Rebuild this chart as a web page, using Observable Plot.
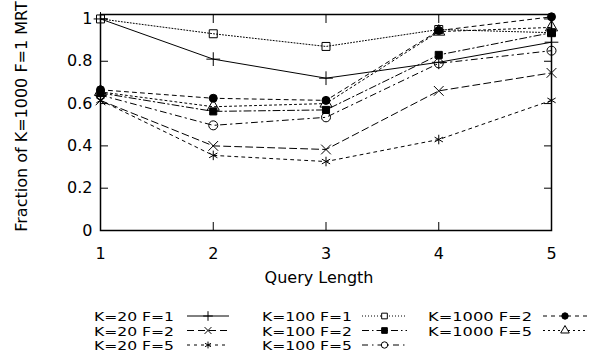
<!DOCTYPE html>
<html>
<head>
<meta charset="utf-8">
<script src="https://cdn.jsdelivr.net/npm/d3@7"></script>
<script src="https://cdn.jsdelivr.net/npm/@observablehq/plot@0.6"></script>
<style>
  html, body { margin: 0; padding: 0; background: #fff; }
  svg { display: block; }
</style>
</head>
<body>
<div id="chart"></div>
<script>
// ---- data ----
const queryLength = [1, 2, 3, 4, 5];
const k20f1   = [1.00, 0.81, 0.72, 0.795, 0.89];
const k20f2   = [0.615, 0.40, 0.383, 0.66, 0.745];
const k20f5   = [0.615, 0.355, 0.326, 0.43, 0.615];
const k100f1  = [1.00, 0.93, 0.87, 0.95, 0.935];
const k100f2  = [0.65, 0.563, 0.57, 0.83, 0.935];
const k100f5  = [0.64, 0.497, 0.535, 0.79, 0.85];
const k1000f2 = [0.665, 0.625, 0.615, 0.945, 1.01];
const k1000f5 = [0.655, 0.585, 0.60, 0.94, 0.96];
const yTicks = [0, 0.2, 0.4, 0.6, 0.8, 1];
const xTicks = [1, 2, 3, 4, 5];
const xLabel = "Query Length";
const yLabel = "Fraction of K=1000 F=1 MRT";

const series = [
  {name: "K=20 F=1",   values: k20f1,   symbol: "plus",     fill: "none",  dash: null},
  {name: "K=20 F=2",   values: k20f2,   symbol: "times",    fill: "none",  dash: "7,4"},
  {name: "K=20 F=5",   values: k20f5,   symbol: "asterisk", fill: "none",  dash: "3,4"},
  {name: "K=100 F=1",  values: k100f1,  symbol: "square",   fill: "none",  dash: "1,2"},
  {name: "K=100 F=2",  values: k100f2,  symbol: "square",   fill: "black", dash: "7,3,1.5,3"},
  {name: "K=100 F=5",  values: k100f5,  symbol: "circle",   fill: "none",  dash: "6,4,1.5,4"},
  {name: "K=1000 F=2", values: k1000f2, symbol: "circle",   fill: "black", dash: "4,4"},
  {name: "K=1000 F=5", values: k1000f5, symbol: "triangle", fill: "none",  dash: "2,3"}
];
const legendCols = [
  ["K=20 F=1", "K=20 F=2", "K=20 F=5"],
  ["K=100 F=1", "K=100 F=2", "K=100 F=5"],
  ["K=1000 F=2", "K=1000 F=5"]
];

const rows = s => queryLength.map((q, i) => ({q, v: s.values[i]}));
const font = "DejaVu Sans";

const marks = [];
for (const s of series) {
  marks.push(Plot.line(rows(s), {x: "q", y: "v", stroke: "black", strokeWidth: 1, strokeDasharray: s.dash ?? undefined}));
}
for (const s of series) {
  marks.push(Plot.dot(rows(s), {
    x: "q", y: "v", symbol: s.symbol, r: s.fill === "black" ? 4 : 4.5,
    fill: s.fill, stroke: "black", strokeWidth: 1
  }));
}

const chart = Plot.plot({
  width: 595,
  height: 295,
  marginTop: 14,
  marginBottom: 65,
  marginLeft: 100,
  marginRight: 44,
  style: {fontFamily: font, fontSize: "16px", color: "black", background: "white"},
  x: {domain: [1, 5]},
  y: {domain: [0, 1.021]},
  marks: [
    ...marks,
    Plot.axisX(xTicks, {anchor: "bottom", tickSize: -8, tickPadding: 25, tickFormat: d => String(d), label: null, fontSize: 16}),
    Plot.axisX(xTicks, {anchor: "top", tickSize: -8, tickFormat: () => "", label: null}),
    Plot.axisY(yTicks, {anchor: "left", tickSize: -8, tickPadding: 16, tickFormat: d => String(d), label: null, fontSize: 16}),
    Plot.axisY(yTicks, {anchor: "right", tickSize: -8, tickFormat: () => "", label: null}),
    Plot.frame({stroke: "black", strokeWidth: 1.5}),
    Plot.text([xLabel], {text: d => d, frameAnchor: "bottom", textAnchor: "middle", lineAnchor: "middle", dy: 47.5, dx: -7, fontSize: 16}),
    Plot.text([yLabel], {text: d => d, frameAnchor: "left", textAnchor: "middle", lineAnchor: "middle", rotate: -90, dx: -79, dy: -6, fontSize: 16})
  ]
});
document.getElementById("chart").appendChild(chart);

// ---- legend ----
const symbolMap = {
  plus: d3.symbolPlus, times: d3.symbolTimes, asterisk: d3.symbolAsterisk,
  square: d3.symbolSquare, circle: d3.symbolCircle, triangle: d3.symbolTriangle
};
const colText = [[94, 174], [262, 352], [428, 532]];
const colSample = [[187, 229], [362, 407], [543, 587]];
const rowBase = [26, 40.5, 55];
const leg = d3.select("#chart").append("svg")
  .attr("width", 595).attr("height", 69)
  .style("font-family", font).style("font-size", "12.5px");
legendCols.forEach((col, ci) => {
  col.forEach((name, ri) => {
    const s = series.find(d => d.name === name);
    const y = rowBase[ri];
    const [tx0, tx1] = colText[ci];
    leg.append("text").attr("x", tx0).attr("y", y)
      .attr("text-anchor", "start").attr("fill", "black")
      .attr("textLength", tx1 - tx0).attr("lengthAdjust", "spacingAndGlyphs")
      .text(name);
    const [x1, x2] = colSample[ci];
    const ym = y - 5;
    leg.append("line").attr("x1", x1).attr("x2", x2).attr("y1", ym).attr("y2", ym)
      .attr("stroke", "black").attr("stroke-width", 1)
      .attr("stroke-dasharray", s.dash);
    const r = 3.2;
    leg.append("path")
      .attr("transform", `translate(${(x1 + x2) / 2},${ym})`)
      .attr("d", d3.symbol(symbolMap[s.symbol], Math.PI * r * r)())
      .attr("fill", s.fill === "black" ? "black" : "white")
      .attr("stroke", "black").attr("stroke-width", 1);
  });
});
</script>
</body>
</html>
